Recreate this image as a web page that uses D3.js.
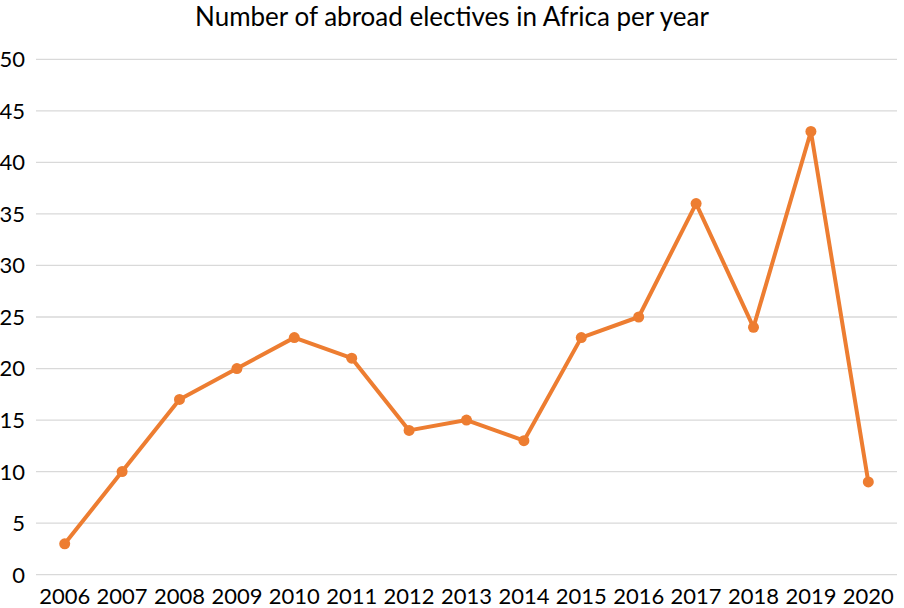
<!DOCTYPE html>
<html><head><meta charset="utf-8">
<script src="https://cdn.jsdelivr.net/npm/d3@7"></script>
<style>body{margin:0;background:#fff}text{font-family:Lato,"Open Sans",sans-serif;}</style>
</head><body>
<svg id="c" width="904" height="608"></svg>
<script>
const years = ["2006","2007","2008","2009","2010","2011","2012","2013","2014","2015","2016","2017","2018","2019","2020"];
const values = [3,10,17,20,23,21,14,15,13,23,25,36,24,43,9];
const yTicks = [0,5,10,15,20,25,30,35,40,45,50];
const title = "Number of abroad electives in Africa per year";

(function(){
const svg = d3.select("#c");
const pLeft = 36, pRight = 897, pTop = 59.3, pBottom = 574.7;
const x = d3.scaleBand().domain(years).range([pLeft, pRight]).padding(0);
const y = d3.scaleLinear().domain([0,50]).range([pBottom, pTop]);

svg.append("text").attr("x",452).attr("y",26).attr("text-anchor","middle")
  .attr("font-size",26).attr("fill","#000").text(title);

const gy = svg.append("g");
gy.selectAll("line").data(yTicks).join("line")
  .attr("x1",pLeft).attr("x2",pRight).attr("y1",d=>y(d)).attr("y2",d=>y(d))
  .attr("stroke","#d9d9d9").attr("stroke-width",1.3);
gy.selectAll("text").data(yTicks).join("text")
  .attr("x",25).attr("y",d=>y(d)).attr("dy","0.36em").attr("text-anchor","end")
  .attr("font-size",22).attr("fill","#000").text(d=>d);

svg.append("g").selectAll("text").data(years).join("text")
  .attr("x",d=>x(d)+x.bandwidth()/2).attr("y",604).attr("text-anchor","middle")
  .attr("font-size",22).attr("fill","#000").text(d=>d);

const line = d3.line().x((d,i)=>x(years[i])+x.bandwidth()/2).y(d=>y(d));
svg.append("path").datum(values).attr("d",line).attr("fill","none")
  .attr("stroke","#ED7D31").attr("stroke-width",4).attr("stroke-linejoin","round");
svg.append("g").selectAll("circle").data(values).join("circle")
  .attr("cx",(d,i)=>x(years[i])+x.bandwidth()/2).attr("cy",d=>y(d)).attr("r",5.5)
  .attr("fill","#ED7D31");
})();
</script>
</body></html>
